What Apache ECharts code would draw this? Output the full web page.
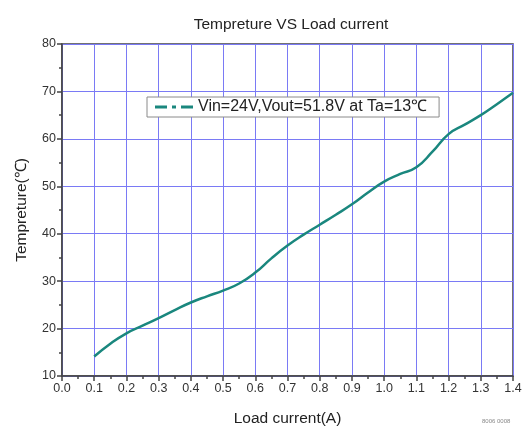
<!DOCTYPE html>
<html>
<head>
<meta charset="utf-8">
<script src="https://cdn.jsdelivr.net/npm/echarts@6/dist/echarts.min.js"></script>
<style>
html,body{margin:0;padding:0;background:#fff;}
#chart{width:528px;height:432px;}
</style>
</head>
<body>
<div id="chart"></div>
<script>
var currents = [0.1,0.15,0.2,0.25,0.3,0.35,0.4,0.45,0.5,0.55,0.6,0.65,0.7,0.75,0.8,0.85,0.9,0.95,1.0,1.05,1.1,1.15,1.2,1.25,1.3,1.35,1.4]
var temps = [14.1,16.8,19.0,20.6,22.2,23.9,25.5,26.8,28.0,29.5,31.8,34.8,37.5,39.8,41.9,44.0,46.2,48.7,51.0,52.6,54.0,57.3,61.0,63.0,65.0,67.3,69.7]
var seriesName = "Vin=24V,Vout=51.8V at Ta=13℃"

var points = currents.map(function(c, i){ return [c, temps[i]] })
var font = "Arial, 'Liberation Sans', sans-serif"
var gridColor = "#7a7af5"
var axisColor = "#444"
var lineColor = "#1a877e"

var chart = echarts.init(document.getElementById("chart"))
chart.setOption({
    backgroundColor: "#fff",
    animation: false,
    title: {
        text: "Tempreture VS Load current",
        left: 286,
        textAlign: "center",
        top: 12,
        textStyle: {fontFamily: font, fontSize: 15.5, fontWeight: "normal", color: "#222"}
    },
    legend: {
        left: 147,
        top: 97,
        data: [{name: seriesName, icon: "path://M0,0h12v3h-12z M17,0h4v3h-4z M26,0h12v3h-12z"}],
        itemWidth: 38,
        itemHeight: 3,
        itemGap: 6,
        padding: [2, 12, 2, 8],
        backgroundColor: "#fff",
        borderColor: "#8a8a8a",
        borderWidth: 1,
        borderRadius: 0,
        itemStyle: {color: lineColor},
        textStyle: {fontFamily: font, fontSize: 16, color: "#222", padding: [2, 0, 0, 0]}
    },
    grid: {
        left: 62, right: 15, top: 44, bottom: 53,
        show: true,
        borderColor: axisColor,
        borderWidth: 1.5,
        backgroundColor: "#fff"
    },
    xAxis: {
        type: "value",
        min: 0, max: 1.4, interval: 0.1,
        name: "Load current(A)",
        nameLocation: "middle",
        nameGap: 35,
        nameTextStyle: {fontFamily: font, fontSize: 15.5, color: "#222"},
        axisLine: {show: true, lineStyle: {color: axisColor, width: 1.5}},
        axisTick: {show: true, length: 5, lineStyle: {color: axisColor, width: 1.5}},
        minorTick: {show: true, splitNumber: 2, length: 3, lineStyle: {color: axisColor, width: 1.5}},
        axisLabel: {fontFamily: font, fontSize: 12.5, color: "#333", margin: 6,
            formatter: function(v){ return v.toFixed(1) }},
        splitLine: {show: true, lineStyle: {color: gridColor, width: 1}}
    },
    yAxis: {
        type: "value",
        min: 10, max: 80, interval: 10,
        name: "Tempreture(℃)",
        nameLocation: "middle",
        nameRotate: 90,
        nameGap: 32,
        nameTextStyle: {fontFamily: font, fontSize: 15.5, color: "#222"},
        axisLine: {show: true, lineStyle: {color: axisColor, width: 1.5}},
        axisTick: {show: true, length: 5, lineStyle: {color: axisColor, width: 1.5}},
        minorTick: {show: true, splitNumber: 2, length: 3, lineStyle: {color: axisColor, width: 1.5}},
        axisLabel: {fontFamily: font, fontSize: 12.5, color: "#333", margin: 6},
        splitLine: {show: true, lineStyle: {color: gridColor, width: 1}}
    },
    graphic: [{
        type: "text",
        left: 482, top: 418,
        style: {text: "8006 0008", fontFamily: font, fontSize: 6, fill: "#888"}
    }],
    series: [{
        name: seriesName,
        type: "line",
        data: points,
        smooth: true,
        symbol: "none",
        lineStyle: {color: lineColor, width: 2.5},
        itemStyle: {color: lineColor}
    }]
})
</script>
</body>
</html>
